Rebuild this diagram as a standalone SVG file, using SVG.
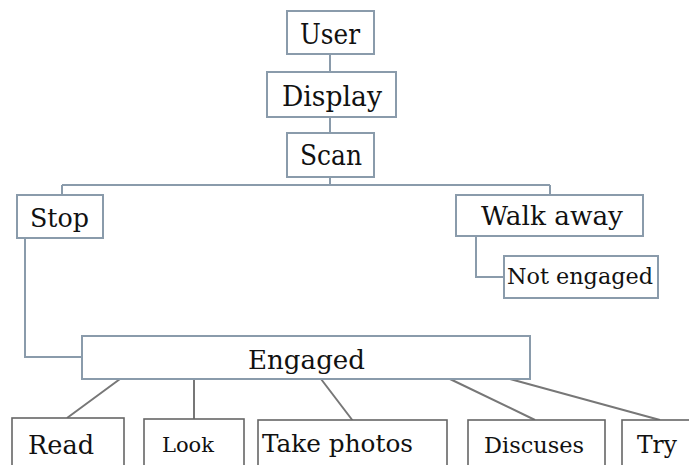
<svg xmlns="http://www.w3.org/2000/svg" width="689" height="465" viewBox="0 0 689 465">
  <style>
    .top rect { fill: #ffffff; stroke: #8a9bab; stroke-width: 2; }
    .bot rect { fill: #ffffff; stroke: #666666; stroke-width: 1.6; }
    text { font-family: "DejaVu Serif", "Liberation Serif", serif; fill: #111111; }
    .tree { fill: none; stroke: #8a9bab; stroke-width: 2; }
    .spoke { fill: none; stroke: #777777; stroke-width: 2; }
  </style>
  <rect width="689" height="465" fill="#ffffff"/>

  <!-- connectors -->
  <g id="connectors">
    <path class="tree" d="M330,54 V72 M330,117 V133 M330,177 V185 M62,185 H550 M62,185 V195 M550,185 V195"/>
    <path class="tree" d="M25,238 V357 H82"/>
    <path class="tree" d="M476,236 V277 H504"/>
    <path class="spoke" d="M120,379 L67,418 M194,379 V419 M321,379 L353,421 M450,379 L535,420 M510,379 L660,420"/>
  </g>

  <g id="user" class="top">
    <rect x="287" y="11" width="87" height="43"/>
    <text x="300" y="44" font-size="27" textLength="60" lengthAdjust="spacingAndGlyphs">User</text>
  </g>
  <g id="display" class="top">
    <rect x="267" y="72" width="129" height="45"/>
    <text x="282" y="106" font-size="27" textLength="100" lengthAdjust="spacingAndGlyphs">Display</text>
  </g>
  <g id="scan" class="top">
    <rect x="287" y="133" width="87" height="44"/>
    <text x="300" y="165" font-size="27" textLength="62" lengthAdjust="spacingAndGlyphs">Scan</text>
  </g>
  <g id="stop" class="top">
    <rect x="17" y="195" width="86" height="43"/>
    <text x="30" y="227" font-size="26" textLength="59" lengthAdjust="spacingAndGlyphs">Stop</text>
  </g>
  <g id="walk-away" class="top">
    <rect x="456" y="195" width="187" height="41"/>
    <text x="481" y="225" font-size="26" textLength="142" lengthAdjust="spacingAndGlyphs">Walk away</text>
  </g>
  <g id="not-engaged" class="top">
    <rect x="504" y="256" width="154" height="42"/>
    <text x="507" y="284" font-size="22.5" textLength="146" lengthAdjust="spacingAndGlyphs">Not engaged</text>
  </g>
  <g id="engaged" class="top">
    <rect x="82" y="336" width="448" height="43"/>
    <text x="248" y="369" font-size="26" textLength="117" lengthAdjust="spacingAndGlyphs">Engaged</text>
  </g>

  <g id="read" class="bot">
    <rect x="12" y="418" width="112" height="60"/>
    <text x="28" y="454" font-size="26" textLength="66" lengthAdjust="spacingAndGlyphs">Read</text>
  </g>
  <g id="look" class="bot">
    <rect x="144" y="419" width="100" height="60"/>
    <text x="162" y="452" font-size="21" textLength="52" lengthAdjust="spacingAndGlyphs">Look</text>
  </g>
  <g id="take-photos" class="bot">
    <rect x="258" y="420" width="189" height="60"/>
    <text x="262" y="452" font-size="23.5" textLength="151" lengthAdjust="spacingAndGlyphs">Take photos</text>
  </g>
  <g id="discuses" class="bot">
    <rect x="468" y="420" width="137" height="60"/>
    <text x="484" y="453" font-size="22.5" textLength="100" lengthAdjust="spacingAndGlyphs">Discuses</text>
  </g>
  <g id="try" class="bot">
    <rect x="622" y="420" width="100" height="60"/>
    <text x="637" y="453" font-size="24" textLength="40" lengthAdjust="spacingAndGlyphs">Try</text>
  </g>
</svg>
